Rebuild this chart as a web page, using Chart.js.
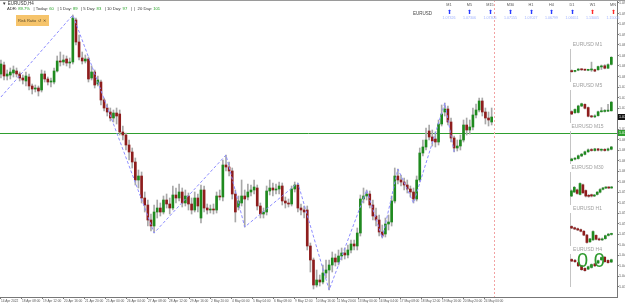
<!DOCTYPE html>
<html>
<head>
<meta charset="utf-8">
<script src="https://cdn.jsdelivr.net/npm/chart.js@4.4.0/dist/chart.umd.min.js"></script>
<style>
  body { margin: 0; background: #fff; }
  #wrap { position: relative; width: 625px; height: 304px; overflow: hidden; font-family: "Liberation Sans", Arial, sans-serif; }
  #main { position: absolute; left: 0; top: 0; }
  .mini { position: absolute; left: 561px; }
  .t { position: absolute; white-space: nowrap; font-size: 4.5px; line-height: 5px; color: #333; }
  .g { color: #27a227; }
  .topline { position: absolute; left: 0; top: 0; width: 625px; height: 1px; background: #9a9a9a; }
  #risk { position: absolute; left: 16px; top: 15px; width: 33px; height: 11px; background: #f6c46b; font-size: 4px; line-height: 11px; color: #5a4a2a; padding-left: 2px; box-sizing: border-box; white-space: nowrap; overflow: hidden; }
  #zero { position: absolute; left: 577px; top: 250px; font-size: 20px; line-height: 20px; color: #2e9a2e; font-family: Arial, "Liberation Sans", sans-serif; }
  .tf { position: absolute; width: 16px; text-align: center; font-size: 3.8px; line-height: 4px; color: #555; }
  .arr { position: absolute; width: 16px; text-align: center; font-size: 6px; line-height: 6px; }
  .tfp { position: absolute; width: 20px; text-align: center; font-size: 3.6px; line-height: 4px; color: #9fb2ff; }
</style>
</head>
<body>
<div id="wrap">
  <canvas id="main" width="625" height="304"></canvas>
  <canvas id="m1" class="mini" width="53" height="41" style="top:41px"></canvas>
  <canvas id="m5" class="mini" width="53" height="41" style="top:82px"></canvas>
  <canvas id="m15" class="mini" width="53" height="41" style="top:123px"></canvas>
  <canvas id="m30" class="mini" width="53" height="41" style="top:164px"></canvas>
  <canvas id="h1" class="mini" width="53" height="41" style="top:205px"></canvas>
  <canvas id="h4" class="mini" width="53" height="41" style="top:246px"></canvas>
  <div class="topline"></div>
  <div class="t" style="left:2px;top:1px">&#9660; EURUSD,H4</div>
  <div class="t" style="left:7px;top:6px;font-size:4.2px">ADR: <span class="g">89.7%</span> &nbsp;&nbsp;| Today: <span class="g">60</span> &nbsp;&nbsp;| 1 Day: <span class="g">89</span> &nbsp;&nbsp;| 5 Day: <span class="g">83</span> &nbsp;&nbsp;| 10 Day: <span class="g">97</span> &nbsp;&nbsp;| &nbsp;| &nbsp;20 Day: <span class="g">101</span></div>
  <div id="risk">Risk Ratio &nbsp;&#8634; &#10005;</div>
  <div class="t" style="left:413px;top:11px;color:#444">EURUSD</div>
  <div id="zero">0.0</div>
</div>
<script>
// EURUSD H4 candles, oldest first
const opens = [
  1.0822, 1.0840, 1.0818, 1.0820, 1.0824, 1.0828, 1.0822, 1.0814, 1.0808, 1.0816,
  1.0798, 1.0792, 1.0794, 1.0790, 1.0822, 1.0812, 1.0806, 1.0806, 1.0828, 1.0848,
  1.0846, 1.0852, 1.0844, 1.0846, 1.0930, 1.0886, 1.0854, 1.0848, 1.0852, 1.0814,
  1.0826, 1.0802, 1.0806, 1.0770, 1.0754, 1.0746, 1.0734, 1.0744, 1.0742, 1.0706,
  1.0700, 1.0680, 1.0666, 1.0646, 1.0610, 1.0618, 1.0574, 1.0560, 1.0530, 1.0518,
  1.0546, 1.0554, 1.0546, 1.0570, 1.0562, 1.0554, 1.0580, 1.0574, 1.0586, 1.0564,
  1.0578, 1.0562, 1.0550, 1.0574, 1.0534, 1.0590, 1.0554, 1.0550, 1.0552, 1.0550,
  1.0578, 1.0576, 1.0640, 1.0636, 1.0628, 1.0582, 1.0556, 1.0564, 1.0578, 1.0576,
  1.0586, 1.0590, 1.0594, 1.0558, 1.0542, 1.0546, 1.0588, 1.0594, 1.0590, 1.0592,
  1.0598, 1.0568, 1.0564, 1.0562, 1.0592, 1.0600, 1.0554, 1.0550, 1.0550, 1.0478,
  1.0450, 1.0400, 1.0410, 1.0406, 1.0424, 1.0430, 1.0440, 1.0454, 1.0446, 1.0458,
  1.0464, 1.0460, 1.0470, 1.0482, 1.0478, 1.0504, 1.0572, 1.0578, 1.0582, 1.0560,
  1.0538, 1.0530, 1.0506, 1.0502, 1.0522, 1.0526, 1.0568, 1.0618, 1.0610, 1.0606,
  1.0600, 1.0592, 1.0586, 1.0572, 1.0610, 1.0664, 1.0676, 1.0708, 1.0696, 1.0692,
  1.0686, 1.0722, 1.0746, 1.0752, 1.0726, 1.0694, 1.0674, 1.0678, 1.0690, 1.0720,
  1.0710, 1.0716, 1.0740, 1.0750, 1.0768, 1.0746, 1.0734, 1.0726
];
const highs = [
  1.0850, 1.0846, 1.0830, 1.0834, 1.0838, 1.0834, 1.0826, 1.0820, 1.0826, 1.0822,
  1.0802, 1.0800, 1.0798, 1.0830, 1.0828, 1.0816, 1.0814, 1.0834, 1.0858, 1.0866,
  1.0860, 1.0858, 1.0854, 1.0940, 1.0934, 1.0900, 1.0866, 1.0860, 1.0856, 1.0838,
  1.0830, 1.0818, 1.0810, 1.0774, 1.0762, 1.0754, 1.0750, 1.0754, 1.0750, 1.0718,
  1.0704, 1.0690, 1.0674, 1.0654, 1.0630, 1.0626, 1.0586, 1.0570, 1.0542, 1.0560,
  1.0570, 1.0564, 1.0578, 1.0582, 1.0574, 1.0598, 1.0594, 1.0602, 1.0594, 1.0590,
  1.0584, 1.0574, 1.0586, 1.0582, 1.0600, 1.0598, 1.0562, 1.0560, 1.0562, 1.0586,
  1.0590, 1.0650, 1.0660, 1.0646, 1.0634, 1.0590, 1.0578, 1.0610, 1.0590, 1.0602,
  1.0600, 1.0610, 1.0600, 1.0564, 1.0554, 1.0598, 1.0610, 1.0604, 1.0602, 1.0606,
  1.0604, 1.0576, 1.0572, 1.0598, 1.0606, 1.0604, 1.0562, 1.0558, 1.0558, 1.0484,
  1.0454, 1.0430, 1.0420, 1.0440, 1.0450, 1.0450, 1.0466, 1.0462, 1.0470, 1.0474,
  1.0474, 1.0480, 1.0490, 1.0490, 1.0514, 1.0580, 1.0594, 1.0590, 1.0588, 1.0570,
  1.0554, 1.0540, 1.0520, 1.0534, 1.0540, 1.0578, 1.0634, 1.0632, 1.0620, 1.0614,
  1.0610, 1.0598, 1.0594, 1.0618, 1.0674, 1.0690, 1.0714, 1.0720, 1.0710, 1.0706,
  1.0730, 1.0760, 1.0764, 1.0758, 1.0734, 1.0698, 1.0690, 1.0700, 1.0730, 1.0734,
  1.0730, 1.0754, 1.0762, 1.0774, 1.0774, 1.0754, 1.0746, 1.0754
];
const lows = [
  1.0814, 1.0810, 1.0810, 1.0812, 1.0816, 1.0816, 1.0808, 1.0802, 1.0798, 1.0790,
  1.0782, 1.0786, 1.0778, 1.0786, 1.0806, 1.0800, 1.0796, 1.0802, 1.0826, 1.0838,
  1.0840, 1.0838, 1.0834, 1.0842, 1.0880, 1.0850, 1.0842, 1.0844, 1.0806, 1.0810,
  1.0794, 1.0798, 1.0760, 1.0748, 1.0738, 1.0728, 1.0726, 1.0722, 1.0700, 1.0690,
  1.0670, 1.0650, 1.0634, 1.0600, 1.0594, 1.0564, 1.0546, 1.0518, 1.0508, 1.0504,
  1.0534, 1.0538, 1.0542, 1.0554, 1.0542, 1.0550, 1.0564, 1.0568, 1.0556, 1.0558,
  1.0550, 1.0542, 1.0546, 1.0546, 1.0524, 1.0546, 1.0542, 1.0544, 1.0542, 1.0544,
  1.0570, 1.0568, 1.0628, 1.0618, 1.0572, 1.0526, 1.0550, 1.0558, 1.0516, 1.0570,
  1.0578, 1.0582, 1.0550, 1.0534, 1.0534, 1.0540, 1.0580, 1.0578, 1.0582, 1.0582,
  1.0560, 1.0554, 1.0556, 1.0558, 1.0586, 1.0546, 1.0540, 1.0534, 1.0470, 1.0426,
  1.0392, 1.0396, 1.0398, 1.0402, 1.0414, 1.0390, 1.0426, 1.0438, 1.0440, 1.0450,
  1.0452, 1.0454, 1.0464, 1.0470, 1.0470, 1.0498, 1.0564, 1.0570, 1.0554, 1.0530,
  1.0518, 1.0498, 1.0494, 1.0496, 1.0510, 1.0518, 1.0564, 1.0602, 1.0598, 1.0590,
  1.0584, 1.0576, 1.0564, 1.0568, 1.0606, 1.0658, 1.0670, 1.0690, 1.0678, 1.0676,
  1.0680, 1.0718, 1.0738, 1.0720, 1.0686, 1.0666, 1.0668, 1.0670, 1.0686, 1.0700,
  1.0702, 1.0710, 1.0734, 1.0746, 1.0738, 1.0722, 1.0718, 1.0720
];
const closes = [
  1.0842, 1.0818, 1.0822, 1.0826, 1.0830, 1.0822, 1.0814, 1.0810, 1.0818, 1.0798,
  1.0792, 1.0794, 1.0788, 1.0822, 1.0812, 1.0806, 1.0808, 1.0828, 1.0848, 1.0846,
  1.0850, 1.0844, 1.0846, 1.0934, 1.0886, 1.0856, 1.0848, 1.0852, 1.0812, 1.0826,
  1.0800, 1.0810, 1.0770, 1.0754, 1.0746, 1.0734, 1.0744, 1.0738, 1.0706, 1.0700,
  1.0680, 1.0666, 1.0646, 1.0610, 1.0618, 1.0574, 1.0560, 1.0530, 1.0518, 1.0546,
  1.0554, 1.0546, 1.0570, 1.0562, 1.0554, 1.0580, 1.0574, 1.0586, 1.0564, 1.0578,
  1.0562, 1.0550, 1.0574, 1.0558, 1.0590, 1.0554, 1.0550, 1.0552, 1.0550, 1.0578,
  1.0576, 1.0640, 1.0636, 1.0628, 1.0582, 1.0546, 1.0568, 1.0578, 1.0572, 1.0586,
  1.0590, 1.0596, 1.0558, 1.0542, 1.0546, 1.0588, 1.0594, 1.0590, 1.0592, 1.0598,
  1.0568, 1.0564, 1.0562, 1.0592, 1.0600, 1.0554, 1.0550, 1.0546, 1.0478, 1.0450,
  1.0400, 1.0410, 1.0406, 1.0424, 1.0430, 1.0440, 1.0454, 1.0446, 1.0458, 1.0464,
  1.0460, 1.0470, 1.0482, 1.0478, 1.0504, 1.0572, 1.0578, 1.0582, 1.0560, 1.0538,
  1.0530, 1.0506, 1.0498, 1.0522, 1.0526, 1.0568, 1.0618, 1.0610, 1.0606, 1.0600,
  1.0592, 1.0586, 1.0572, 1.0610, 1.0664, 1.0676, 1.0690, 1.0696, 1.0688, 1.0686,
  1.0722, 1.0742, 1.0752, 1.0726, 1.0694, 1.0674, 1.0678, 1.0690, 1.0720, 1.0710,
  1.0716, 1.0740, 1.0750, 1.0768, 1.0746, 1.0734, 1.0730, 1.0736
];

// zigzag swing points: candle index and price
const zigzagIndex = [0, 23, 49, 72, 78, 95, 105, 117, 122, 127, 132, 142, 145];
const zigzagPrice = [1.0776, 1.0940, 1.0504, 1.0660, 1.0516, 1.0604, 1.0390, 1.0590, 1.0494, 1.0632, 1.0564, 1.0764, 1.0666];

const levelPrice = 1.0704;
const markerIndex = 157.6;

const timeLabels = [
  "14 Apr 2022", "18 Apr 08:00", "19 Apr 12:00", "20 Apr 16:00", "21 Apr 20:00", "25 Apr 00:00",
  "26 Apr 04:00", "27 Apr 08:00", "28 Apr 12:00", "29 Apr 16:00", "2 May 20:00", "4 May 00:00",
  "5 May 04:00", "6 May 08:00", "9 May 12:00", "10 May 16:00", "11 May 20:00", "13 May 00:00",
  "16 May 04:00", "17 May 08:00", "18 May 12:00", "19 May 16:00", "20 May 20:00", "24 May 00:00"
];
const yTicks = [
  1.0964, 1.0943, 1.0922, 1.0901, 1.0880, 1.0859, 1.0838, 1.0817, 1.0796, 1.0775,
  1.0754, 1.0733, 1.0712, 1.0691, 1.0670, 1.0649, 1.0628, 1.0607, 1.0586, 1.0565,
  1.0544, 1.0523, 1.0502, 1.0481, 1.0460, 1.0439, 1.0418, 1.0397
];

// small timeframe panels, [open, high, low, close]
const m1Candles = [
  [1.07265, 1.07270, 1.07255, 1.07258], [1.07260, 1.07266, 1.07256, 1.07262], [1.07268, 1.07278, 1.07264, 1.07274],
  [1.07274, 1.07276, 1.07266, 1.07270], [1.07270, 1.07273, 1.07264, 1.07268], [1.07267, 1.07271, 1.07264, 1.07269],
  [1.07269, 1.07318, 1.07260, 1.07271], [1.07271, 1.07274, 1.07258, 1.07262], [1.07270, 1.07294, 1.07267, 1.07290],
  [1.07288, 1.07300, 1.07272, 1.07292], [1.07295, 1.07302, 1.07276, 1.07280], [1.07280, 1.07307, 1.07278, 1.07302],
  [1.07304, 1.07352, 1.07300, 1.07348]
];
const m5Candles = [
  [1.07165, 1.07170, 1.07146, 1.07150], [1.07158, 1.07182, 1.07154, 1.07178], [1.07160, 1.07205, 1.07156, 1.07200],
  [1.07200, 1.07218, 1.07196, 1.07214], [1.07210, 1.07214, 1.07182, 1.07186], [1.07190, 1.07194, 1.07132, 1.07136],
  [1.07136, 1.07142, 1.07128, 1.07132], [1.07132, 1.07145, 1.07128, 1.07138], [1.07140, 1.07168, 1.07136, 1.07164],
  [1.07164, 1.07190, 1.07162, 1.07168], [1.07166, 1.07178, 1.07162, 1.07170], [1.07168, 1.07210, 1.07164, 1.07172],
  [1.07170, 1.07228, 1.07168, 1.07224]
];
const m15Candles = [
  [1.07115, 1.07130, 1.07112, 1.07125], [1.07124, 1.07134, 1.07120, 1.07128], [1.07128, 1.07150, 1.07124, 1.07145],
  [1.07144, 1.07160, 1.07140, 1.07155], [1.07154, 1.07174, 1.07150, 1.07170], [1.07170, 1.07188, 1.07166, 1.07182],
  [1.07184, 1.07190, 1.07174, 1.07178], [1.07178, 1.07192, 1.07174, 1.07188], [1.07188, 1.07192, 1.07176, 1.07180],
  [1.07180, 1.07188, 1.07174, 1.07184], [1.07185, 1.07190, 1.07174, 1.07178], [1.07180, 1.07194, 1.07176, 1.07188],
  [1.07186, 1.07204, 1.07182, 1.07200]
];
const m30Candles = [
  [1.07250, 1.07288, 1.07246, 1.07282], [1.07275, 1.07310, 1.07272, 1.07304], [1.07288, 1.07294, 1.07262, 1.07266],
  [1.07260, 1.07332, 1.07256, 1.07328], [1.07320, 1.07324, 1.07266, 1.07270], [1.07284, 1.07288, 1.07244, 1.07250],
  [1.07252, 1.07260, 1.07242, 1.07248], [1.07258, 1.07262, 1.07244, 1.07250], [1.07250, 1.07260, 1.07246, 1.07254],
  [1.07260, 1.07278, 1.07256, 1.07274], [1.07274, 1.07296, 1.07270, 1.07290], [1.07292, 1.07304, 1.07288, 1.07300],
  [1.07300, 1.07308, 1.07296, 1.07303], [1.07304, 1.07308, 1.07296, 1.07300], [1.07300, 1.07310, 1.07298, 1.07305]
];
const h1Candles = [
  [1.07316, 1.07320, 1.07302, 1.07306], [1.07308, 1.07312, 1.07296, 1.07300], [1.07302, 1.07306, 1.07290, 1.07294],
  [1.07296, 1.07300, 1.07282, 1.07286], [1.07286, 1.07290, 1.07258, 1.07262], [1.07262, 1.07266, 1.07212, 1.07216],
  [1.07220, 1.07242, 1.07216, 1.07238], [1.07232, 1.07288, 1.07228, 1.07284], [1.07260, 1.07264, 1.07232, 1.07236],
  [1.07238, 1.07244, 1.07228, 1.07232], [1.07232, 1.07244, 1.07228, 1.07238], [1.07240, 1.07262, 1.07236, 1.07258],
  [1.07260, 1.07272, 1.07256, 1.07268], [1.07266, 1.07274, 1.07262, 1.07270]
];
const h4Candles = [
  [1.07266, 1.07270, 1.07252, 1.07256], [1.07260, 1.07266, 1.07248, 1.07252], [1.07246, 1.07250, 1.07222, 1.07226],
  [1.07226, 1.07230, 1.07198, 1.07202], [1.07210, 1.07214, 1.07192, 1.07196], [1.07206, 1.07224, 1.07202, 1.07220],
  [1.07216, 1.07238, 1.07212, 1.07234], [1.07238, 1.07242, 1.07222, 1.07226], [1.07244, 1.07262, 1.07240, 1.07258],
  [1.07264, 1.07282, 1.07260, 1.07278], [1.07280, 1.07284, 1.07248, 1.07252], [1.07260, 1.07264, 1.07242, 1.07246],
  [1.07250, 1.07268, 1.07246, 1.07264]
];

// trend panel at the top right
const tfNames = ["M1", "M5", "M15", "M30", "H1", "H4", "D1", "W1", "MN"];
const tfUp = [true, true, true, true, true, true, true, false, false];
const tfPrices = ["1.07326", "1.07306", "1.07306", "1.07155", "1.07027", "1.06799", "1.06651", "1.13005", "1.15005"];

const GREEN = "#1f8a1f";
const RED = "#8e1d1d";
const WICK = "#a8a8a8";

const wrap = document.getElementById("wrap");
tfNames.forEach((name, k) => {
  const cx = 449 + k * 20.5;
  const lab = document.createElement("div");
  lab.className = "tf"; lab.textContent = name;
  lab.style.left = (cx - 8) + "px"; lab.style.top = "3px";
  const a = document.createElement("div");
  a.className = "arr"; a.textContent = "\u2B06";
  a.style.left = (cx - 8) + "px"; a.style.top = "9px";
  a.style.color = tfUp[k] ? "#2a3cff" : "#ff2a2a";
  const p = document.createElement("div");
  p.className = "tfp"; p.textContent = tfPrices[k];
  p.style.left = (cx - 10) + "px"; p.style.top = "16px";
  wrap.append(lab, a, p);
});

const levels = {
  id: "levels",
  beforeDatasetsDraw(chart) {
    const { ctx, chartArea: a, scales: { x, y } } = chart;
    ctx.save();
    const ly = Math.round(y.getPixelForValue(levelPrice)) + 0.5;
    ctx.strokeStyle = "#2f9f2f";
    ctx.lineWidth = 1;
    ctx.beginPath(); ctx.moveTo(a.left, ly); ctx.lineTo(a.right, ly); ctx.stroke();
    const mx = Math.round(x.getPixelForValue(markerIndex)) + 0.5;
    ctx.strokeStyle = "#f2a3a3";
    ctx.setLineDash([2, 2]);
    ctx.beginPath(); ctx.moveTo(mx, a.top); ctx.lineTo(mx, a.bottom); ctx.stroke();
    ctx.restore();
  },
  afterDraw(chart) {
    const { ctx, chartArea: a, scales: { y } } = chart;
    const tag = (price, bg) => {
      const py = Math.round(y.getPixelForValue(price));
      ctx.fillStyle = bg;
      ctx.fillRect(a.right + 1, py - 3, 10, 6);
      ctx.fillStyle = "#fff";
      ctx.font = "3.6px Arial";
      ctx.textBaseline = "middle";
      ctx.fillText(price.toFixed(5), a.right + 2, py);
    };
    ctx.save();
    tag(levelPrice, "#2f9f2f");
    tag(closes[closes.length - 1], "#111");
    ctx.restore();
  }
};

new Chart(document.getElementById("main"), {
  type: "bar",
  data: {
    datasets: [
      {
        type: "line",
        data: zigzagIndex.map((ix, k) => ({ x: ix, y: zigzagPrice[k] })),
        borderColor: "#8d8dff",
        borderWidth: 1,
        borderDash: [3, 2],
        pointRadius: 0,
        order: 0,
      },
      {
        data: lows.map((l, i) => ({ x: i, y: [l, highs[i]] })),
        backgroundColor: WICK,
        barThickness: 1,
        grouped: false,
        order: 2,
      },
      {
        data: opens.map((o, i) => ({ x: i, y: [o, closes[i]] })),
        backgroundColor: opens.map((o, i) => (closes[i] >= o ? GREEN : RED)),
        barThickness: 2,
        minBarLength: 1,
        grouped: false,
        order: 1,
      },
    ],
  },
  options: {
    responsive: false,
    animation: false,
    devicePixelRatio: 1,
    layout: { padding: 0 },
    plugins: { legend: { display: false }, tooltip: { enabled: false } },
    scales: {
      x: {
        type: "linear",
        offset: false,
        min: -0.3,
        max: 197.1,
        grid: { drawOnChartArea: false, tickLength: 2, color: "#777", offset: false },
        border: { color: "#777" },
        ticks: {
          autoSkip: false, maxRotation: 0, minRotation: 0, align: "start", padding: 0,
          font: { size: 3.2, family: "Arial" }, color: "#555",
          callback: (v, i) => timeLabels[i],
        },
        afterBuildTicks: (s) => { s.ticks = timeLabels.map((_, k) => ({ value: k * 6.72 })); },
        afterFit: (s) => { s.height = 7; s.paddingLeft = 0; s.paddingRight = 0; },
      },
      y: {
        position: "right",
        beginAtZero: false,
        min: 1.0376,
        max: 1.0970,
        grid: { drawOnChartArea: false, tickLength: 2, color: "#777" },
        border: { color: "#777" },
        ticks: {
          autoSkip: false, padding: 0,
          font: { size: 3.6, family: "Arial" }, color: "#555",
          callback: (v) => Number(v).toFixed(5),
        },
        afterBuildTicks: (s) => { s.ticks = yTicks.map((v) => ({ value: v })); },
        afterFit: (s) => { s.width = 8; s.paddingTop = 0; s.paddingBottom = 0; },
      },
    },
  },
  plugins: [levels],
});

function miniChart(id, title, candles) {
  new Chart(document.getElementById(id), {
    type: "bar",
    data: {
      labels: candles.map((_, i) => i),
      datasets: [
        { data: candles.map((c) => [c[2], c[1]]), backgroundColor: WICK, barThickness: 1, grouped: false, order: 2 },
        {
          data: candles.map((c) => [c[0], c[3]]),
          backgroundColor: candles.map((c) => (c[3] >= c[0] ? GREEN : RED)),
          barThickness: 2, minBarLength: 1, grouped: false, order: 1,
        },
      ],
    },
    options: {
      responsive: false,
      animation: false,
      devicePixelRatio: 1,
      layout: { padding: { left: 1, right: 1, top: 0, bottom: 1 } },
      plugins: {
        legend: { display: false },
        tooltip: { enabled: false },
        title: { display: true, text: title, color: "#a0a0a0", font: { size: 5, family: "Arial", weight: "normal" }, padding: { top: 1, bottom: 1 } },
      },
      scales: {
        x: { display: false },
        y: {
          display: true, beginAtZero: false, grace: "2%",
          grid: { display: false },
          ticks: { display: false },
          border: { display: true, dash: [1, 2], color: "#c4c4c4" },
        },
      },
    },
  });
}

miniChart("m1", "EURUSD M1", m1Candles);
miniChart("m5", "EURUSD M5", m5Candles);
miniChart("m15", "EURUSD M15", m15Candles);
miniChart("m30", "EURUSD M30", m30Candles);
miniChart("h1", "EURUSD H1", h1Candles);
miniChart("h4", "EURUSD H4", h4Candles);
</script>
</body>
</html>
